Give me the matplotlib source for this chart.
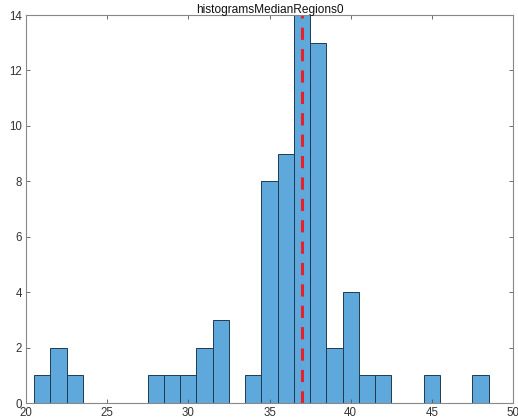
import matplotlib
matplotlib.use("Agg")
import matplotlib.pyplot as plt
import numpy as np

plt.rcParams['font.family'] = ['Liberation Sans', 'DejaVu Sans']

# Histogram bins (width 1) and counts
bin_edges = [20.5 + i for i in range(29)]  # 20.5 .. 48.5
counts = [1, 2, 1, 0, 0, 0, 0, 1, 1, 1, 2, 3, 0, 1, 8, 9, 14, 13, 2, 4, 1, 1, 0, 0, 1, 0, 0, 1]
median_value = 37.0
title_text = "histogramsMedianRegions0"
x_ticks = [20, 25, 30, 35, 40, 45, 50]
y_ticks = [0, 2, 4, 6, 8, 10, 12, 14]

fig = plt.figure(figsize=(5.18, 4.2), dpi=100)
ax = fig.add_axes([26/518, 1 - 403/420, (513-26)/518, (403-15)/420])

lefts = np.array(bin_edges[:-1])
widths = np.diff(bin_edges)
ax.bar(lefts, counts, width=widths, align='edge', color='#5fa8db',
       edgecolor='#1f3b52', linewidth=0.7)

ax.plot([median_value, median_value], [0, 14], color='#e8202a', linestyle=(0, (4, 3)),
        linewidth=2.2)

ax.set_xlim(20, 50)
ax.set_ylim(0, 14)
ax.set_xticks(x_ticks)
ax.set_yticks(y_ticks)
ax.tick_params(direction='in', length=3, width=0.6, colors='#555555',
               labelsize=8.3, top=True, right=True, labelcolor='#333333', pad=3)
for s in ax.spines.values():
    s.set_color('#888888')
    s.set_linewidth(0.8)

ax.text(0.5, 0.998, title_text, transform=ax.transAxes, ha='center', va='bottom',
        fontsize=8.6, color='#111111')

fig.savefig("out.png", dpi=100)
